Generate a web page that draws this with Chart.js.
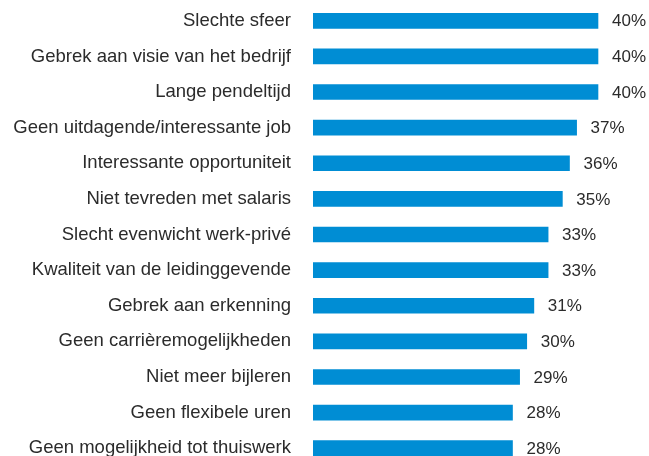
<!DOCTYPE html>
<html>
<head>
<meta charset="utf-8">
<script src="https://cdn.jsdelivr.net/npm/chart.js@4"></script>
<style>
    html, body { margin: 0; padding: 0; background: #fff; overflow: hidden; }
    canvas { display: block; }
</style>
</head>
<body>
<canvas id="reasons-chart" width="649" height="466"></canvas>
<script>
const reasons = [
    'Slechte sfeer',
    'Gebrek aan visie van het bedrijf',
    'Lange pendeltijd',
    'Geen uitdagende/interessante job',
    'Interessante opportuniteit',
    'Niet tevreden met salaris',
    'Slecht evenwicht werk-privé',
    'Kwaliteit van de leidinggevende',
    'Gebrek aan erkenning',
    'Geen carrièremogelijkheden',
    'Niet meer bijleren',
    'Geen flexibele uren',
    'Geen mogelijkheid tot thuiswerk'
];
const percentages = [40, 40, 40, 37, 36, 35, 33, 33, 31, 30, 29, 28, 28];

// --- value labels next to each bar ---
const valueLabels = {
    id: 'valueLabels',
    afterDatasetsDraw(chart) {
        const ctx = chart.ctx;
        const meta = chart.getDatasetMeta(0);
        ctx.save();
        ctx.font = '17px "Liberation Sans", Arial, sans-serif';
        ctx.fillStyle = '#2b2b2b';
        ctx.textAlign = 'left';
        ctx.textBaseline = 'middle';
        meta.data.forEach((bar, i) => {
            ctx.fillText(percentages[i] + '%', bar.x + 14, bar.y + 1);
        });
        ctx.restore();
    }
};

const ctx = document.getElementById('reasons-chart').getContext('2d');
new Chart(ctx, {
    type: 'bar',
    data: {
        labels: reasons,
        datasets: [{
            data: percentages,
            backgroundColor: '#008dd4',
            barThickness: 15,
            borderWidth: 0
        }]
    },
    options: {
        indexAxis: 'y',
        responsive: false,
        animation: false,
        layout: { padding: { top: 3, bottom: 0, left: 0, right: 0 } },
        scales: {
            x: { display: false, min: 0, max: 47.16 },
            y: {
                grid: { display: false, drawTicks: false },
                border: { display: false },
                ticks: {
                    color: '#2b2b2b',
                    padding: 22,
                    font: { family: '"Liberation Sans", Arial, sans-serif', size: 18.5 }
                },
                afterFit(scale) {
                    scale.width = 313;
                    scale.paddingTop = 0;
                    scale.paddingBottom = 0;
                }
            }
        },
        plugins: { legend: { display: false }, tooltip: { enabled: false } }
    },
    plugins: [valueLabels]
});
</script>
</body>
</html>
